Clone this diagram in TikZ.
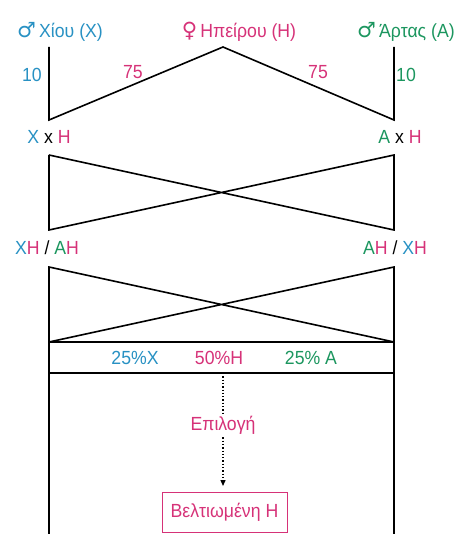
\documentclass[tikz,border=0pt]{standalone}
\usepackage{fontspec}
\setmainfont{Liberation Sans}[FakeStretch=0.93]
\newfontfamily\symf{DejaVu Sans}
\usetikzlibrary{arrows.meta}
\definecolor{cblue}{RGB}{40,145,195}
\definecolor{cmag}{RGB}{214,50,120}
\definecolor{cgreen}{RGB}{28,150,95}
\tikzset{
  ln/.style={line width=1.6pt,black},
  lab/.style={inner sep=0pt,font=\fontsize{19}{21}\selectfont},
}
\newcommand{\male}{{\symf\fontsize{21}{21}\selectfont ♂}}
\newcommand{\female}{{\symf\fontsize{21}{21}\selectfont ♀}}
\begin{document}
\begin{tikzpicture}[x=1pt,y=-1pt]
\useasboundingbox (0,0) rectangle (457,534);
% coordinates
\coordinate (l0) at (49,47);
\coordinate (l1) at (49,120);
\coordinate (ap) at (223,47);
\coordinate (r0) at (394,47);
\coordinate (r1) at (394,120);
\coordinate (a1) at (49,155);
\coordinate (a2) at (49,230);
\coordinate (b1) at (394,155);
\coordinate (b2) at (394,230);
\coordinate (c1) at (49,267);
\coordinate (c2) at (49,342);
\coordinate (d1) at (394,267);
\coordinate (d2) at (394,342);
\coordinate (c3) at (49,373);
\coordinate (d3) at (394,373);
\coordinate (c4) at (49,534);
\coordinate (d4) at (394,534);
\coordinate (s0) at (223,373);
% lines
\draw[ln] (l0) -- (l1) -- (ap) -- (r1) -- (r0);
\draw[ln] (a1) -- (a2) -- (b1) -- (b2) -- (a1);
\draw[ln] (c2) -- (c1) -- (d2) -- (d1) -- (c2);
\draw[ln] (c1) -- (c4);
\draw[ln] (d1) -- (d4);
\draw[ln] (c2) -- (d2);
\draw[ln] (c3) -- (d3);
% labels
\node[lab,text=cblue,anchor=base west] (nx) at (17,38) {\male\,Χίου (Χ)};
\node[lab,text=cmag,anchor=base] (nh) at (239,38) {\female\,Ηπείρου (Η)};
\node[lab,text=cgreen,anchor=base west] (na) at (357,38) {\male\,Άρτας (Α)};
\node[lab,text=cblue] at (32,75) {10};
\node[lab,text=cmag] at (133,72) {75};
\node[lab,text=cmag] at (318,72) {75};
\node[lab,text=cgreen] at (406,75) {10};
\node[lab] at (49,137) {\textcolor{cblue}{Χ} x \textcolor{cmag}{Η}};
\node[lab] at (400,137) {\textcolor{cgreen}{Α} x \textcolor{cmag}{Η}};
\node[lab] at (47,248) {\textcolor{cblue}{Χ}\textcolor{cmag}{Η} / \textcolor{cgreen}{Α}\textcolor{cmag}{Η}};
\node[lab] at (395,248) {\textcolor{cgreen}{Α}\textcolor{cmag}{Η} / \textcolor{cblue}{Χ}\textcolor{cmag}{Η}};
\node[lab,text=cblue] at (135,358) {25\%Χ};
\node[lab,text=cmag] at (219,358) {50\%Η};
\node[lab,text=cgreen] at (311,358) {25\% Α};
\node[lab,text=cmag,fill=white,inner sep=3pt] (ep) at (223,425) {Επιλογή};
\node[lab,text=cmag,draw=cmag,line width=0.9pt,minimum width=125pt,minimum height=40pt] (bh) at (224.5,512) {Βελτιωμένη Η};
\draw[line width=1.3pt,dotted] (s0) -- (ep.north);
\draw[line width=1.3pt,dotted,-{Triangle[width=5pt,length=6pt]}] (ep.south) -- (223,486);
\end{tikzpicture}
\end{document}
